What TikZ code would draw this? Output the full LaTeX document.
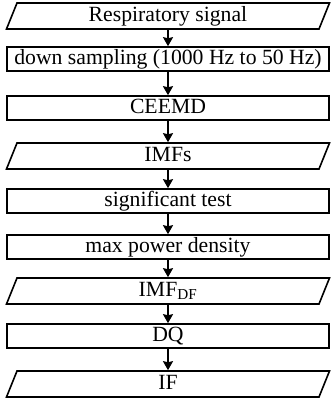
\documentclass[tikz,border=0pt]{standalone}
\usepackage{fontspec}
\setmainfont{Liberation Serif}
\usetikzlibrary{arrows.meta,shapes.geometric}

\tikzset{
  stepbox/.style={draw, line width=1.6pt, rectangle, minimum width=322pt,
    text height=15pt, text depth=5pt, inner xsep=0pt, inner ysep=2pt,
    font=\fontsize{21.7}{22}\selectfont},
  databox/.style={draw, line width=1.6pt, trapezium, trapezium left angle=68,
    trapezium right angle=112, trapezium stretches body, minimum width=323pt,
    text height=15pt, text depth=5pt, inner xsep=0pt, inner ysep=3pt,
    font=\fontsize{21.7}{22}\selectfont},
  flow/.style={->, line width=1.6pt}
}

\begin{document}
\begin{tikzpicture}[x=1pt, y=-1pt, >={Stealth[length=9pt,width=10pt,inset=1pt]}, line join=miter]
    \useasboundingbox (0,0) rectangle (331,405);
    \node[databox] (resp)    at (168, 16)  {Respiratory signal};
    \node[stepbox] (downs)   at (168, 59)  {down sampling (1000 Hz to 50 Hz)};
    \node[stepbox] (ceemd)   at (168, 108) {CEEMD};
    \node[databox] (imfs)    at (168, 156) {IMFs};
    \node[stepbox] (sigtest) at (168, 201) {significant test};
    \node[stepbox] (maxpow)  at (168, 247) {max power density};
    \node[databox] (imfdf)   at (168, 291) {IMF\textsubscript{DF}};
    \node[stepbox] (dq)      at (168, 336) {DQ};
    \node[databox] (ifreq)   at (168, 384) {IF};
    \foreach \a/\b in {resp/downs, downs/ceemd, ceemd/imfs, imfs/sigtest,
                       sigtest/maxpow, maxpow/imfdf, imfdf/dq, dq/ifreq}
      \draw[flow] (\a) -- (\b);
\end{tikzpicture}
\end{document}
